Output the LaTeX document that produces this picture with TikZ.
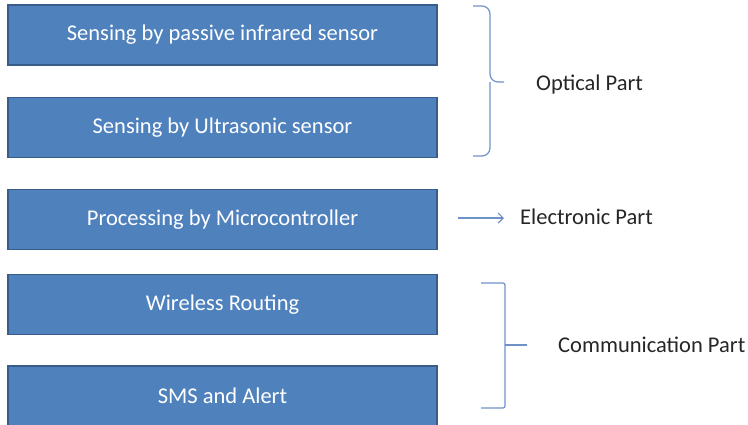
\documentclass[tikz,border=0pt]{standalone}
\usepackage{fontspec}
\setmainfont{Carlito}
\usetikzlibrary{positioning, arrows.meta}
\definecolor{boxfill}{RGB}{79,129,189}
\definecolor{boxedge}{RGB}{56,93,138}
\definecolor{bracecol}{RGB}{110,145,200}
\begin{document}
\begin{tikzpicture}[x=1pt, y=-1pt,
        block/.style={draw=boxedge, fill=boxfill, line width=1.5pt, text=white,
            minimum width=429pt, minimum height=60pt, inner sep=0pt,
            font=\fontsize{22.5}{27}\selectfont},
        partlabel/.style={right, inner sep=0pt, text=black!85,
            font=\fontsize{22.5}{27}\selectfont},
        bracket/.style={draw=bracecol, line width=1.2pt}]
        \useasboundingbox (0,0) rectangle (748,424);
        % blocks
        \node[block] (pir) at (222.5,35) {Sensing by passive infrared sensor};
        \node[block, below=31pt of pir] (ultra) {Sensing by Ultrasonic sensor};
        \node[block, below=30.5pt of ultra] (mcu) {Processing by Microcontroller};
        \node[block, below=23.5pt of mcu] (routing) {Wireless Routing};
        \node[block, below=30pt of routing] (sms) {SMS and Alert};
        % optical brace
        \coordinate (optTop) at (473,6);
        \coordinate (optBot) at (473,156);
        \coordinate (optTip) at (504,82);
        \draw[bracket, rounded corners=8pt] (optTop) -- (490,6) -- (490,82) -- (optTip);
        \draw[bracket, rounded corners=8pt] (optBot) -- (490,156) -- (490,82);
        \node[partlabel] (optical) at (536,84) {Optical Part};
        % electronic arrow
        \node[partlabel] (electronic) at (520,217) {Electronic Part};
        \coordinate (elStart) at (458,218);
        \draw[bracket, -{Straight Barb[length=5pt, width=10pt]}] (elStart) -- ([xshift=-16pt]electronic.west |- elStart);
        % communication bracket
        \coordinate (comTop) at (481,283);
        \coordinate (comBot) at (481,408);
        \coordinate (comTip) at (527,345);
        \draw[bracket, rounded corners=2pt] (comTop) -- (505,283) -- (505,408) -- (comBot);
        \draw[bracket] (505,345) -- (comTip);
        \node[partlabel] (communication) at (558,345) {Communication Part};
\end{tikzpicture}
\end{document}
